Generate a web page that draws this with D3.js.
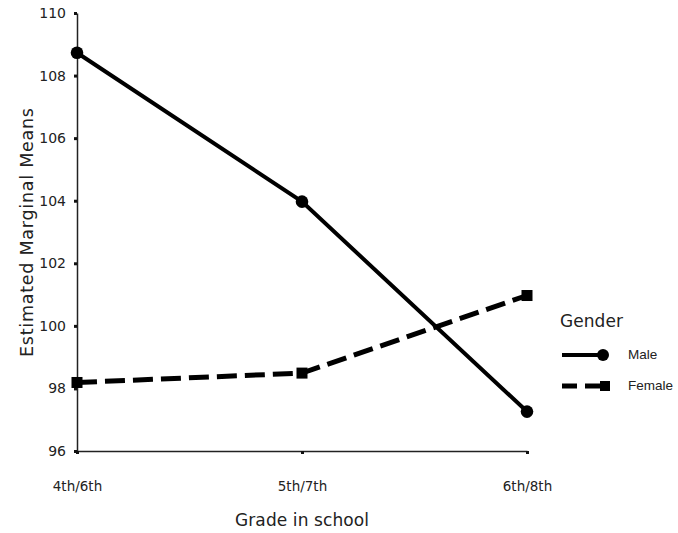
<!DOCTYPE html>
<html>
<head>
<meta charset="utf-8">
<script src="https://cdn.jsdelivr.net/npm/d3@7"></script>
<style>
  html, body { margin: 0; padding: 0; background: #fff; }
  svg { display: block; }
  text { font-family: "DejaVu Sans", sans-serif; fill: #222; }
</style>
</head>
<body>
<svg id="chart" width="678" height="533"></svg>
<script>
// Grades on the x axis
const grades = ["4th/6th", "5th/7th", "6th/8th"];
// Estimated marginal means per gender
const maleMeans = [108.73, 103.97, 97.26];
const femaleMeans = [98.19, 98.49, 100.97];
// Y axis tick values
const yTicks = [96, 98, 100, 102, 104, 106, 108, 110];
const seriesNames = ["Male", "Female"];

const svg = d3.select("#chart");

const x = d3.scalePoint().domain(grades).range([77, 527]);
const y = d3.scaleLinear().domain([96, 110]).range([451, 13]);

// Axes: plain lines with small square tick marks
const yAxis = svg.append("g").attr("transform", "translate(77,0)")
  .call(d3.axisLeft(y).tickValues(yTicks).tickSize(0).tickPadding(11).tickFormat(d3.format("d")));
yAxis.select(".domain").attr("stroke", "#222").attr("stroke-width", 1.5);
yAxis.selectAll(".tick text").style("font-size", "14px").attr("fill", "#222");
yAxis.selectAll(".tick").append("rect")
  .attr("x", -3).attr("y", -1.5).attr("width", 3).attr("height", 3).attr("fill", "#111");

const xAxis = svg.append("g").attr("transform", "translate(0,451)")
  .call(d3.axisBottom(x).tickSize(0).tickPadding(30));
xAxis.select(".domain").attr("stroke", "#222").attr("stroke-width", 1.5);
xAxis.selectAll(".tick text").style("font-size", "13.5px").attr("fill", "#222");
xAxis.selectAll(".tick").append("rect")
  .attr("x", -1.5).attr("y", 0).attr("width", 3).attr("height", 3).attr("fill", "#111");

// Axis titles
svg.append("text")
  .attr("x", x("5th/7th")).attr("y", 526)
  .attr("text-anchor", "middle").style("font-size", "17px")
  .attr("textLength", 134).attr("lengthAdjust", "spacing")
  .text("Grade in school");
svg.append("text")
  .attr("transform", "translate(33,232.5) rotate(-90)")
  .attr("text-anchor", "middle").style("font-size", "17.5px")
  .attr("textLength", 249).attr("lengthAdjust", "spacing")
  .text("Estimated Marginal Means");

const line = d3.line().x((d, i) => x(grades[i])).y(d => y(d));

// Male: solid line with circle markers
svg.append("path").datum(maleMeans)
  .attr("d", line).attr("fill", "none").attr("stroke", "#000").attr("stroke-width", 4);
svg.selectAll(".male-pt").data(maleMeans).enter().append("circle")
  .attr("cx", (d, i) => x(grades[i])).attr("cy", d => y(d)).attr("r", 6.3).attr("fill", "#000");

// Female: dashed line with square markers
svg.append("path").datum(femaleMeans)
  .attr("d", line).attr("fill", "none").attr("stroke", "#000").attr("stroke-width", 5)
  .attr("stroke-dasharray", "20,8");
svg.selectAll(".female-pt").data(femaleMeans).enter().append("rect")
  .attr("x", (d, i) => x(grades[i]) - 5.5).attr("y", d => y(d) - 5.5)
  .attr("width", 11).attr("height", 11).attr("fill", "#000");

// Legend
const legend = svg.append("g");
legend.append("text").attr("x", 560).attr("y", 327).style("font-size", "17px")
  .attr("textLength", 63).attr("lengthAdjust", "spacing").text("Gender");
const legY = [355, 386];
legend.append("line").attr("x1", 562).attr("x2", 603).attr("y1", legY[0]).attr("y2", legY[0])
  .attr("stroke", "#000").attr("stroke-width", 4);
legend.append("circle").attr("cx", 603).attr("cy", legY[0]).attr("r", 6).attr("fill", "#000");
legend.append("line").attr("x1", 562).attr("x2", 603).attr("y1", legY[1]).attr("y2", legY[1])
  .attr("stroke", "#000").attr("stroke-width", 5).attr("stroke-dasharray", "15,8");
legend.append("rect").attr("x", 600).attr("y", legY[1] - 5).attr("width", 10).attr("height", 10).attr("fill", "#000");
legend.selectAll(".lab").data(seriesNames).enter().append("text")
  .attr("x", 628).attr("y", (d, i) => legY[i] + 4)
  .style("font-family", "'Liberation Sans', Arial, sans-serif").style("font-size", "13.5px")
  .text(d => d);
</script>
</body>
</html>
